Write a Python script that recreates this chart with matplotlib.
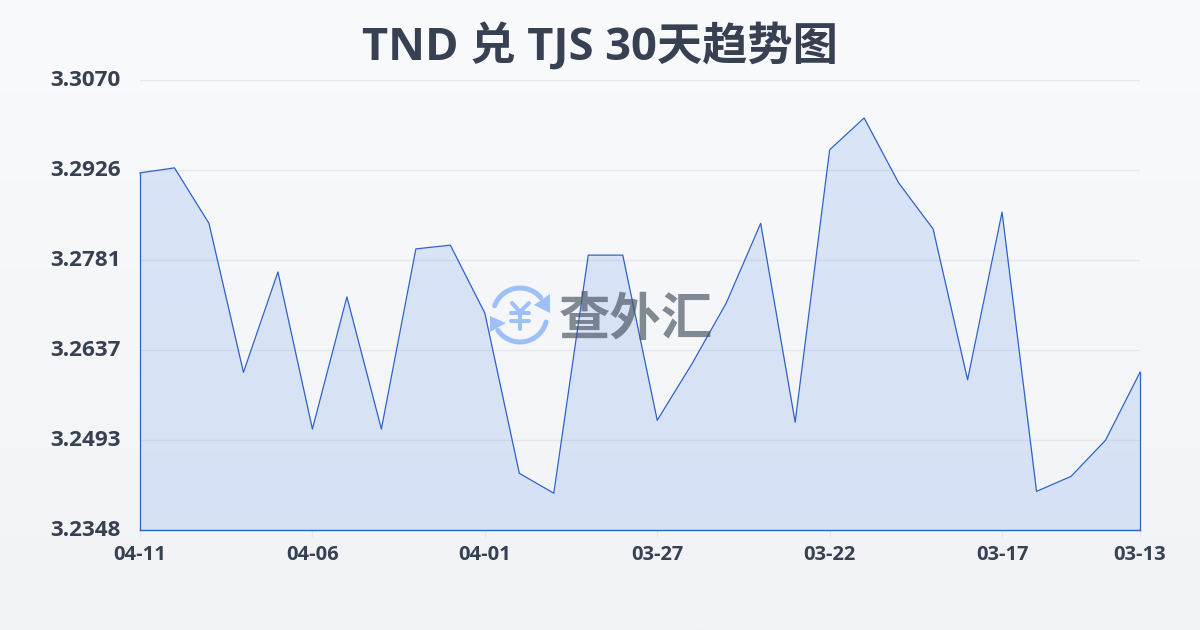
import numpy as np
import matplotlib.pyplot as plt
from matplotlib.patches import Arc, Polygon
from matplotlib.transforms import ScaledTranslation

plt.rcParams['font.family'] = ['Open Sans', 'Noto Sans CJK SC', 'DejaVu Sans']

# Daily rates, newest first
rates = [3.2921, 3.2929, 3.2840, 3.2601, 3.2762, 3.2510, 3.2722, 3.2510, 3.2799, 3.2805,
         3.2696, 3.2439, 3.2407, 3.2789, 3.2789, 3.2524, 3.2614, 3.2712, 3.2840, 3.2521,
         3.2958, 3.3009, 3.2905, 3.2831, 3.2589, 3.2858, 3.2410, 3.2434, 3.2492, 3.2601]
x_ticks = [0, 5, 10, 15, 20, 25, 29]
x_labels = ['04-11', '04-06', '04-01', '03-27', '03-22', '03-17', '03-13']
y_ticks = [3.2348, 3.24924, 3.26368, 3.27812, 3.29256, 3.3070]
y_labels = ['3.2348', '3.2493', '3.2637', '3.2781', '3.2926', '3.3070']
title = 'TND 兑 TJS 30天趋势图'
watermark = '查外汇'

TEXT = '#374151'
LINE = '#2f62c8'
W, H = 1200, 630

fig = plt.figure(figsize=(12, 6.3), dpi=100)

# Background gradient, full figure
bg = fig.add_axes([0, 0, 1, 1], zorder=0)
bg.imshow(np.linspace(0, 1, 256).reshape(-1, 1), aspect='auto', extent=[0, W, H, 0],
          cmap=plt.cm.colors.LinearSegmentedColormap.from_list('bg', ['#f8fafc', '#f1f3f6']))
bg.axis('off')

# Main chart
ax = fig.add_axes([140 / W, 1 - 530 / H, 1000 / W, 450 / H], zorder=1)
ax.patch.set_alpha(0)
x = np.arange(len(rates))
ax.fill_between(x, rates, y_ticks[0], color='#3b76ea', alpha=0.15, linewidth=0, zorder=2)
ax.plot(x, rates, color=LINE, linewidth=0.9, zorder=4, clip_on=False)
ax.plot([0, 0], [y_ticks[0], rates[0]], color=LINE, linewidth=0.9, zorder=4, clip_on=False)
ax.plot([29, 29], [y_ticks[0], rates[-1]], color=LINE, linewidth=0.9, zorder=4, clip_on=False)
ax.set_xlim(0, 29)
ax.set_ylim(y_ticks[0], y_ticks[-1])
ax.set_xticks(x_ticks)
ax.set_xticklabels(x_labels)
ax.set_yticks(y_ticks)
ax.set_yticklabels(y_labels)
ax.grid(axis='y', color='#e5e7eb', linewidth=1, zorder=1)
ax.tick_params(axis='y', length=0, pad=14, labelsize=16.2, labelcolor=TEXT)
ax.tick_params(axis='x', length=5, width=1, color='#e5e7eb', pad=6, labelsize=14.5, labelcolor=TEXT)
for lab in ax.get_xticklabels() + ax.get_yticklabels():
    lab.set_fontweight('bold')
# labels sit a little above their gridline in the original
up = ScaledTranslation(0, 2 / 100, fig.dpi_scale_trans)
for tick in ax.yaxis.get_major_ticks():
    tick.label1.set_transform(tick.label1.get_transform() + up)
for side in ['top', 'left', 'right']:
    ax.spines[side].set_visible(False)
ax.spines['bottom'].set_color(LINE)
ax.spines['bottom'].set_linewidth(1)

fig.text(600 / W, 1 - 48 / H, title, ha='center', va='center', fontsize=32.6,
         fontweight='bold', color=TEXT, zorder=5)

# Watermark logo, drawn in pixel space over the chart
wm = fig.add_axes([0, 0, 1, 1], zorder=2)
wm.axis('off')
wm.patch.set_alpha(0)
blue = '#9dc0f8'
wm.add_patch(Arc((520, 315), 54, 54, theta1=200, theta2=320, color=blue, lw=3.6, capstyle='round'))
wm.add_patch(Arc((520, 315), 54, 54, theta1=15, theta2=145, color=blue, lw=3.6, capstyle='round'))
wm.add_patch(Polygon([[550, 294], [550, 313], [534, 305]], color=blue, lw=0))
wm.add_patch(Polygon([[490, 316], [506, 323], [490, 332]], color=blue, lw=0))
wm.plot([512, 520, 529], [303, 312, 303], color=blue, lw=2.9, solid_capstyle='round', solid_joinstyle='round')
wm.plot([511, 529], [313, 313], color=blue, lw=2.9, solid_capstyle='round')
wm.plot([511, 529], [321, 321], color=blue, lw=2.9, solid_capstyle='round')
wm.plot([520, 520], [312, 329], color=blue, lw=2.9, solid_capstyle='round')
wm.set_xlim(0, W)
wm.set_ylim(H, 0)
wm.text(636, 319, watermark, ha='center', va='center', fontsize=37, fontweight='black',
        color='#4b5563', alpha=0.68, family=['Noto Sans CJK SC'])

fig.savefig('out.png', dpi=100)
